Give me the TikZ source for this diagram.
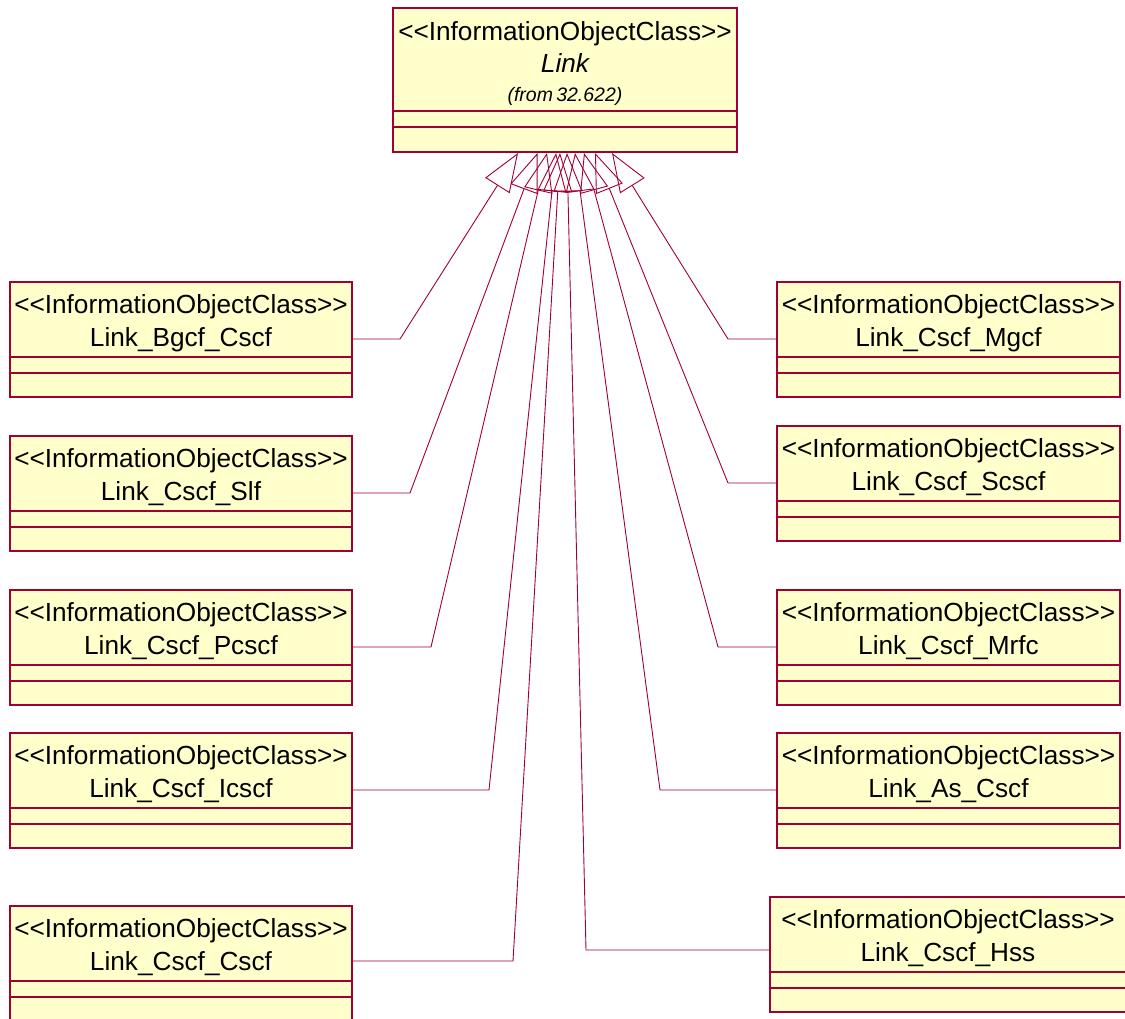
\documentclass[tikz,border=0pt]{standalone}
\usepackage{fontspec}
\setmainfont{Liberation Sans}
\usetikzlibrary{arrows.meta,calc}
\definecolor{umlred}{RGB}{160,0,50}
\definecolor{umlfill}{RGB}{255,255,204}
\tikzset{
  clsbox/.style={draw=umlred, fill=umlfill, line width=1.1pt, minimum height=115pt, inner sep=0pt, outer sep=0pt},
  clstext/.style={anchor=base, inner sep=0pt, font=\fontsize{26.2}{30}\selectfont},
  divline/.style={draw=umlred, line width=1.1pt},
  gen/.style={draw=umlred, line width=0.9pt, line join=miter, -{Triangle[open, length=38.5pt, width=28.8pt]}}
}
\newcommand{\Stereo}{\mbox{<}\mbox{<}InformationObjectClass\mbox{>}\mbox{>}}
\newcommand{\ClassBox}[5]{%
  \node[clsbox, minimum width=#4pt, anchor=north west] (#1) at (#2,#3) {};
  \node[clstext] (#1-s) at ($(#1.north)+(0,31.5)$) {\Stereo};
  \node[clstext] (#1-n) at ($(#1.north)+(0,64.5)$) {#5};
  \draw[divline] ($(#1.north west)+(0,75)$) -- ($(#1.north east)+(0,75)$);
  \draw[divline] ($(#1.north west)+(0,91)$) -- ($(#1.north east)+(0,91)$);
}
\begin{document}
\begin{tikzpicture}[x=1pt,y=-1pt]
\clip (0,0) rectangle (1125,1019);
\fill[white] (0,0) rectangle (1125,1019);

% top class
\node[clsbox, minimum width=344pt, minimum height=144pt, anchor=north west] (link) at (393,8) {};
\node[clstext] (link-s) at ($(link.north)+(0,32.5)$) {\Stereo};
\node[clstext] (link-n) at ($(link.north)+(0,64.5)$) {\itshape Link};
\node[anchor=base, inner sep=0pt, font=\fontsize{19.5}{22}\selectfont\itshape] (link-f) at ($(link.north)+(0,94)$) {(from\,32.622)};
\draw[divline] ($(link.north west)+(0,103)$) -- ($(link.north east)+(0,103)$);
\draw[divline] ($(link.north west)+(0,119)$) -- ($(link.north east)+(0,119)$);

% left column
\ClassBox{bgcf}{10}{282}{342}{Link\_Bgcf\_Cscf}
\ClassBox{slf}{10}{436}{342}{Link\_Cscf\_Slf}
\ClassBox{pcscf}{10}{590}{342}{Link\_Cscf\_Pcscf}
\ClassBox{icscf}{10}{733}{342}{Link\_Cscf\_Icscf}
\ClassBox{cscf}{10}{906}{342}{Link\_Cscf\_Cscf}

% right column
\ClassBox{mgcf}{777}{282}{343}{Link\_Cscf\_Mgcf}
\ClassBox{scscf}{777}{426}{343}{Link\_Cscf\_Scscf}
\ClassBox{mrfc}{777}{590}{343}{Link\_Cscf\_Mrfc}
\ClassBox{as}{777}{733}{343}{Link\_As\_Cscf}
\ClassBox{hss}{770}{897}{356}{Link\_Cscf\_Hss}

% bend points
\coordinate (bgcf-b) at (400,339);
\coordinate (slf-b) at (410,493);
\coordinate (pcscf-b) at (431,647);
\coordinate (icscf-b) at (489,790);
\coordinate (cscf-b) at (513,961);
\coordinate (mgcf-b) at (728,339);
\coordinate (scscf-b) at (728,483);
\coordinate (mrfc-b) at (718,647);
\coordinate (as-b) at (660,790);
\coordinate (hss-b) at (586,950);

% generalizations
\draw[gen] ($(bgcf.north east)+(0,57)$) -- (bgcf-b) -- ($(link.south west)+(125,1)$);
\draw[gen] ($(slf.north east)+(0,57)$) -- (slf-b) -- ($(link.south west)+(144.5,1)$);
\draw[gen] ($(pcscf.north east)+(0,57)$) -- (pcscf-b) -- ($(link.south west)+(154,1)$);
\draw[gen] ($(icscf.north east)+(0,57)$) -- (icscf-b) -- ($(link.south west)+(163,1)$);
\draw[gen] ($(cscf.north east)+(0,55)$) -- (cscf-b) -- ($(link.south west)+(167,1)$);
\draw[gen] ($(hss.north west)+(0,53)$) -- (hss-b) -- ($(link.south west)+(174,1)$);
\draw[gen] ($(as.north west)+(0,57)$) -- (as-b) -- ($(link.south west)+(182,1)$);
\draw[gen] ($(mrfc.north west)+(0,57)$) -- (mrfc-b) -- ($(link.south west)+(191,1)$);
\draw[gen] ($(scscf.north west)+(0,57)$) -- (scscf-b) -- ($(link.south west)+(202,1)$);
\draw[gen] ($(mgcf.north west)+(0,57)$) -- (mgcf-b) -- ($(link.south west)+(219,1)$);
\end{tikzpicture}
\end{document}
